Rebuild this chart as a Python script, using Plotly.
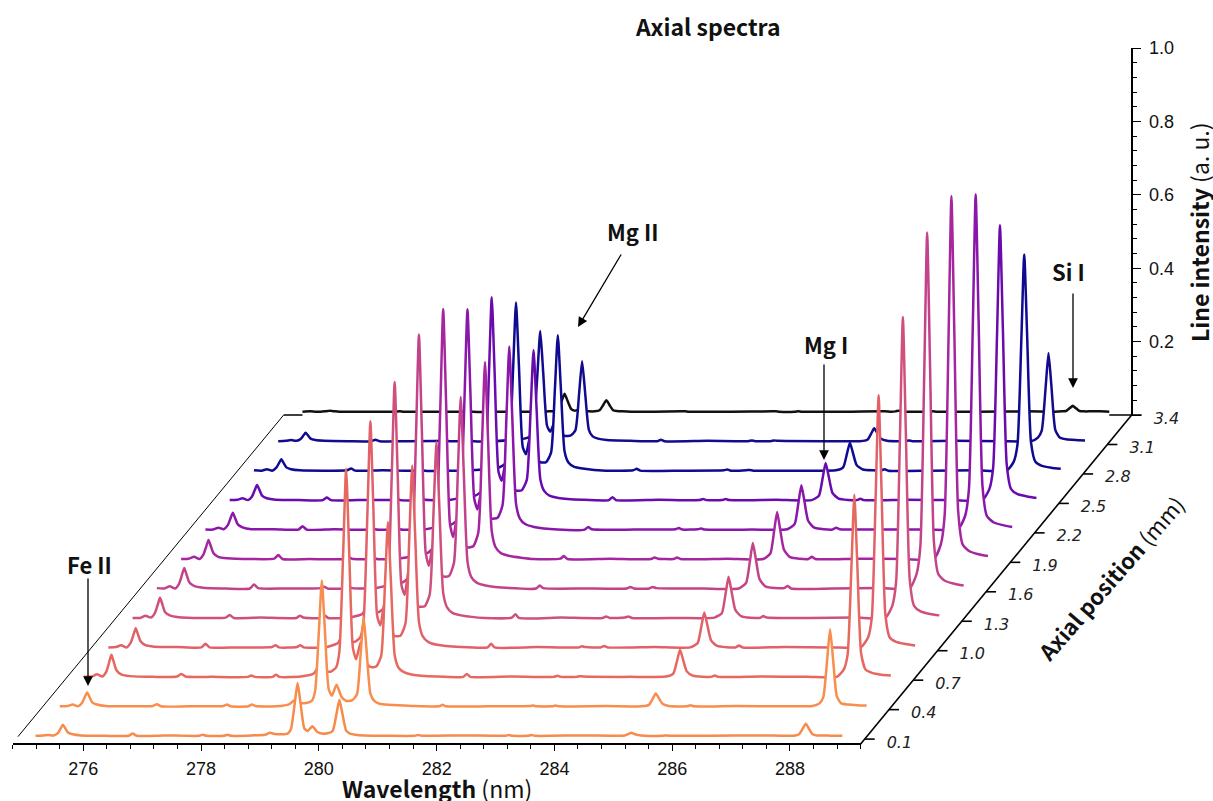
import numpy as np
import plotly.graph_objects as go

# Wavelength sample positions (nm)
wavelength = [
    275.12, 275.25, 275.34, 275.43, 275.50, 275.55, 275.585, 275.62, 275.67, 275.75, 275.9,
    276.3, 276.7, 276.77, 276.84, 277.3, 277.9, 277.96, 278.02, 278.32, 278.38, 278.44, 278.8,
    279.02, 279.10, 279.18, 279.3, 279.4, 279.455, 279.52, 279.57, 279.62, 279.685, 279.74, 279.82,
    279.9, 279.98, 280.08, 280.165, 280.23, 280.28, 280.33, 280.395, 280.46, 280.55, 280.7,
    281.1, 281.56, 281.62, 281.68, 282.4, 283.1, 283.16, 283.22, 283.48, 283.54, 283.6, 284.4, 285.0,
    285.125, 285.19, 285.24, 285.29, 285.355, 285.46,
    285.77, 285.83, 285.89, 286.6, 287.4, 287.9,
    288.02, 288.085, 288.15, 288.2, 288.25, 288.315, 288.39, 288.5, 288.66, 288.82,
]

# Line intensity in thousandths of a.u., one list per axial position
i_0p1 = [9,10,11,10,16,30,39,31,18,13,10, 9,9,15,9,10,9,12,9,9,12,9,10,
         12,17,14,13,15,26,95,153,98,29,22,35,20,15,16,22,68,107,70,23,15,12,10,
         9,9,11,9,10,9,11,9,9,11,9,10,9, 10,14,17,14,11,9, 9,10,9,9,10,9,
         10,13,29,42,29,13,10,10,9,9]
i_0p4 = [9,10,14,9,19,36,47,36,20,14,10, 9,10,15,9,9,10,14,9,9,14,10,9,
         15,25,19,18,24,50,215,352,222,57,38,68,36,24,25,41,155,252,160,43,24,16,13,
         10,9,13,9,9,10,11,9,9,11,9,10,9, 13,30,44,32,16,10, 9,12,9,10,9,10,
         17,34,135,219,139,36,17,14,12,11]
i_0p7 = [9,10,16,10,24,51,69,52,27,16,11, 9,10,17,10,9,9,13,9,9,15,9,10,
         18,36,26,23,35,77,349,576,361,88,57,105,52,36,37,66,262,431,271,68,34,22,15,
         10,9,17,9,10,9,12,9,9,11,10,9,10, 18,53,83,57,24,12, 9,13,9,10,9,9,
         29,69,307,505,317,73,29,20,15,13]
i_1p0 = [9,10,15,9,22,45,61,46,25,15,11, 10,9,19,9,9,10,15,9,10,15,9,9,
         21,42,28,24,37,83,379,625,391,95,69,141,65,40,41,74,306,504,316,78,39,24,16,
         10,9,19,9,10,9,12,10,9,13,9,10,9, 20,66,104,71,28,13, 9,14,9,10,9,10,
         36,91,421,696,435,98,36,24,18,14]
i_1p3 = [9,9,15,10,23,47,64,49,25,16,11, 9,10,17,9,10,9,15,10,9,16,9,10,
         20,39,27,25,38,86,395,652,408,99,72,151,69,40,41,73,297,489,307,76,38,23,16,
         9,10,19,9,10,9,13,9,10,13,9,9,10, 22,76,121,82,31,13, 9,14,10,9,10,9,
         42,107,501,829,517,116,42,27,20,16]
i_1p6 = [10,9,15,9,23,48,65,49,26,16,11, 9,9,20,10,9,10,14,9,9,13,10,9,
         18,36,27,26,40,92,424,701,438,106,71,139,66,42,43,79,322,531,333,82,40,25,17,
         10,9,17,10,9,9,13,9,9,13,10,9,9, 24,83,133,90,34,14, 10,16,9,9,10,9,
         48,125,591,979,610,135,48,30,22,17]
i_1p9 = [9,10,15,9,22,45,61,46,25,15,11, 9,10,20,9,9,9,14,10,9,15,9,10,
         17,31,25,25,40,91,418,690,431,104,69,133,65,41,44,80,331,546,342,84,41,25,17,
         9,10,17,9,10,9,13,10,9,13,9,10,9, 24,86,137,92,35,14, 9,15,9,10,9,9,
         49,128,602,998,622,138,49,31,22,17]
i_2p2 = [9,9,14,10,21,41,55,42,23,15,10, 10,9,18,9,10,9,13,9,9,13,9,9,
         16,28,23,23,36,81,369,609,381,93,64,125,60,39,41,75,308,508,318,79,39,24,16,
         9,9,16,10,9,10,13,9,10,12,9,9,10, 24,82,130,88,33,14, 9,14,10,9,9,10,
         46,119,557,923,576,128,46,29,21,16]
i_2p5 = [9,10,14,9,19,38,50,39,21,14,10, 9,9,16,9,9,10,13,9,9,13,10,9,
         15,25,21,22,34,75,341,562,352,86,62,124,57,35,36,64,254,418,263,66,34,21,15,
         10,9,17,9,10,9,12,9,9,12,9,10,9, 21,70,110,75,29,13, 9,13,9,10,9,9,
         39,99,458,758,473,106,39,25,19,15]
i_2p8 = [10,9,13,9,17,31,40,31,18,13,10, 9,10,15,9,10,9,12,9,9,12,9,10,
         13,20,18,19,30,64,284,467,293,73,54,110,51,32,32,58,230,378,238,61,31,20,15,
         9,10,14,9,9,10,12,9,10,11,9,9,10, 18,55,85,58,24,12, 10,13,9,9,10,9,
         33,80,362,598,374,86,33,22,17,14]
i_3p1 = [9,10,12,10,15,25,32,26,16,12,10, 9,9,13,9,9,10,11,9,9,11,9,9,
         12,17,15,16,23,45,189,309,195,51,35,62,32,24,24,38,140,227,144,40,22,16,12,
         10,9,13,9,10,9,11,9,9,11,10,9,9, 13,30,44,32,16,10, 9,11,9,10,9,9,
         19,38,153,249,158,40,19,14,12,11]
i_3p4 = [9,10,9,9,10,11,12,11,10,9,9, 9,9,10,9,9,9,10,9,9,10,9,9,
         9,10,10,10,11,15,38,58,39,16,12,15,11,10,10,13,28,40,28,13,11,10,9,
         9,10,10,9,9,10,10,9,9,10,9,9,10, 9,10,12,10,9,9, 9,10,9,9,10,9,
         10,11,19,25,19,11,10,10,10,9]

intensity_rows = [i_0p1, i_0p4, i_0p7, i_1p0, i_1p3, i_1p6, i_1p9, i_2p2, i_2p5, i_2p8, i_3p1, i_3p4]
axial_position = [0.1, 0.4, 0.7, 1.0, 1.3, 1.6, 1.9, 2.2, 2.5, 2.8, 3.1, 3.4]
series_colors = ["#F68B4C", "#F88D4E", "#E6685F", "#E26168", "#D0507C", "#C2438A",
                 "#A6269F", "#8A16AA", "#6A0BAE", "#0F0A92", "#130A8E", "#111111"]

wl_ticks = [276, 278, 280, 282, 284, 286, 288]
depth_tick_labels = ["0.1", "0.4", "0.7", "1.0", "1.3", "1.6", "1.9", "2.2", "2.5", "2.8", "3.1", "3.4"]
wl_range = [274.8, 289.2]
depth_range = [0.05, 3.4]
intensity_range = [0.0, 1.0]

# Page geometry of the oblique box
W, H = 1213, 801
PX_X0, PX_NM = 83.3, 58.89      # pixel of 276 nm, pixels per nm
PX_Y0, PX_AU = 744.0, 367.0     # pixel of zero intensity at the front, pixels per a.u.
SHEAR_X = 80.9 / PX_NM          # nm of sideways shift per mm of depth
SHEAR_Y = 98.2 / PX_AU          # a.u. of lift per mm of depth


def sx(wl, depth):
    return np.asarray(wl, float) + (np.asarray(depth, float) - depth_range[0]) * SHEAR_X


def sy(val, depth):
    return np.asarray(val, float) + (np.asarray(depth, float) - depth_range[0]) * SHEAR_Y


def px(xp):
    return xp / W


def py(yp):
    return 1 - yp / H


LABEL_FONT = "Noto Sans CJK JP"
TICK_FONT = "Liberation Sans"

fig = go.Figure()

# Box edges lying on the floor of the oblique box
d0, d1 = depth_range
x0, x1 = wl_range
edges_x = [float(sx(x1, d0)), float(sx(x1, d1)), None, float(sx(x0, d1)), float(sx(x1, d1))]
edges_y = [float(sy(0, d0)), float(sy(0, d1)), None, float(sy(0, d1)), float(sy(0, d1))]
fig.add_trace(go.Scatter(x=edges_x, y=edges_y, mode="lines", hoverinfo="skip",
                         line=dict(color="black", width=1.6)))
fig.add_trace(go.Scatter(x=[float(sx(x0, d0)) + 0.09, float(sx(x0, d1))],
                         y=[float(sy(0, d0)) + 0.02, float(sy(0, d1))],
                         mode="lines", hoverinfo="skip", line=dict(color="black", width=1)))

# Depth ticks and their labels
TICK_NM = 10 / PX_NM
tx, ty = [], []
for d in axial_position:
    bx, by = float(sx(x1, d)), float(sy(0, d))
    tx += [bx, bx + TICK_NM, None]
    ty += [by, by, None]
fig.add_trace(go.Scatter(x=tx, y=ty, mode="lines", hoverinfo="skip",
                         line=dict(color="black", width=1.6)))
fig.add_trace(go.Scatter(
    x=sx(x1, axial_position) + 22 / PX_NM,
    y=sy(0, axial_position) - 4.5 / PX_AU,
    mode="text", text=depth_tick_labels, textposition="middle right", hoverinfo="skip",
    textfont=dict(family="DejaVu Sans", size=16, style="italic", color="#222222"),
))

# Spectra from back to front; each hides what lies behind its own envelope
wl_arr = np.array(wavelength)
for depth, row, color in reversed(list(zip(axial_position, intensity_rows, series_colors))):
    vals = np.array(row) / 1000.0
    xs = sx(wl_arr, depth)
    ys = sy(vals, depth)
    floor = float(sy(-0.006, depth))
    fig.add_trace(go.Scatter(
        x=list(xs) + [xs[-1], xs[0]], y=list(ys) + [floor, floor],
        mode="lines", fill="toself", fillcolor="white",
        line=dict(width=0, color="white"), hoverinfo="skip",
    ))
    fig.add_trace(go.Scatter(x=xs, y=ys, mode="lines", hoverinfo="skip",
                             line=dict(color=color, width=2.5, shape="spline", smoothing=0.55)))

# Carrier trace for the two real scale axes
fig.add_trace(go.Scatter(x=[None], y=[None], xaxis="x2", yaxis="y2", mode="lines", hoverinfo="skip"))

fig.update_layout(
    width=W, height=H, autosize=False, showlegend=False,
    margin=dict(l=0, r=0, t=0, b=0, autoexpand=False),
    paper_bgcolor="white", plot_bgcolor="rgba(0,0,0,0)",
    xaxis=dict(range=[276 - PX_X0 / PX_NM, 276 + (W - PX_X0) / PX_NM], visible=False, domain=[0, 1], automargin=False),
    yaxis=dict(range=[-(H - PX_Y0) / PX_AU, PX_Y0 / PX_AU], visible=False, domain=[0, 1], automargin=False),
    xaxis2=dict(
        domain=[px(PX_X0 + (x0 - 276) * PX_NM), px(PX_X0 + (x1 - 276) * PX_NM)],
        range=wl_range, anchor="free", position=py(PX_Y0), side="bottom", automargin=False,
        showgrid=False, zeroline=False, showline=True, linecolor="black", linewidth=1.6,
        tickmode="array", tickvals=wl_ticks, ticks="outside", ticklen=6, tickwidth=1.4, tickcolor="black",
        minor=dict(tickmode="linear", tick0=274.8, dtick=0.4, ticks="outside", ticklen=4,
                   tickwidth=1.2, tickcolor="black", showgrid=False),
        ticklabelstandoff=3,
        tickfont=dict(family=TICK_FONT, size=18, color="#111111"),
    ),
    yaxis2=dict(
        domain=[py(PX_Y0 - (d1 - d0) * SHEAR_Y * PX_AU), py(PX_Y0 - (d1 - d0) * SHEAR_Y * PX_AU - PX_AU)],
        range=intensity_range, anchor="free", position=px(PX_X0 + (x1 - 276) * PX_NM + (d1 - d0) * SHEAR_X * PX_NM),
        side="right", automargin=False, showgrid=False, zeroline=False, showline=True, linecolor="black", linewidth=1.6,
        tickmode="array", tickvals=[0.0, 0.2, 0.4, 0.6, 0.8, 1.0],
        ticktext=["", "0.2", "0.4", "0.6", "0.8", "1.0"],
        ticks="outside", ticklen=9, tickwidth=1.4, tickcolor="black",
        minor=dict(tickmode="linear", tick0=0, dtick=0.04, ticks="outside", ticklen=5,
                   tickwidth=1.2, tickcolor="black", showgrid=False),
        ticklabelstandoff=4,
        tickfont=dict(family=TICK_FONT, size=18, color="#111111"),
    ),
)

# Titles and element labels
def label(text, xp, yp, size=22, angle=0):
    fig.add_annotation(text=text, x=px(xp), y=py(yp), xref="paper", yref="paper",
                       showarrow=False, xanchor="center", yanchor="middle", textangle=angle,
                       font=dict(family=LABEL_FONT, size=size, color="#111111"))


label("<b>Axial spectra</b>", 708, 26, size=23)
label("<b>Mg II</b>", 632, 231)
label("<b>Mg I</b>", 826, 344)
label("<b>Si I</b>", 1068, 271)
label("<b>Fe II</b>", 89, 564)
label("<b>Wavelength</b> (nm)", 437, 788, size=23)
label("<b>Line intensity</b> (a. u.)", 1199, 232, size=23, angle=-90)
label("<b>Axial position</b> (mm)", 1110, 578, size=22, angle=-49)


def arrow(x_from, y_from, x_to, y_to):
    fig.add_annotation(x=px(x_to), y=py(y_to), xref="paper", yref="paper",
                       ax=x_from - x_to, ay=y_from - y_to, axref="pixel", ayref="pixel",
                       text="", showarrow=True, arrowhead=2, arrowsize=1.5, arrowwidth=1.3,
                       arrowcolor="black", standoff=0, startstandoff=0)


arrow(622, 253, 578, 327)
arrow(824, 363, 824, 460)
arrow(1073, 292, 1073, 388)
arrow(88, 577, 88, 686)

fig.write_html("out.html", config=dict(displayModeBar=False),
               post_script="document.body.style.margin='0';document.body.style.overflow='hidden';")
